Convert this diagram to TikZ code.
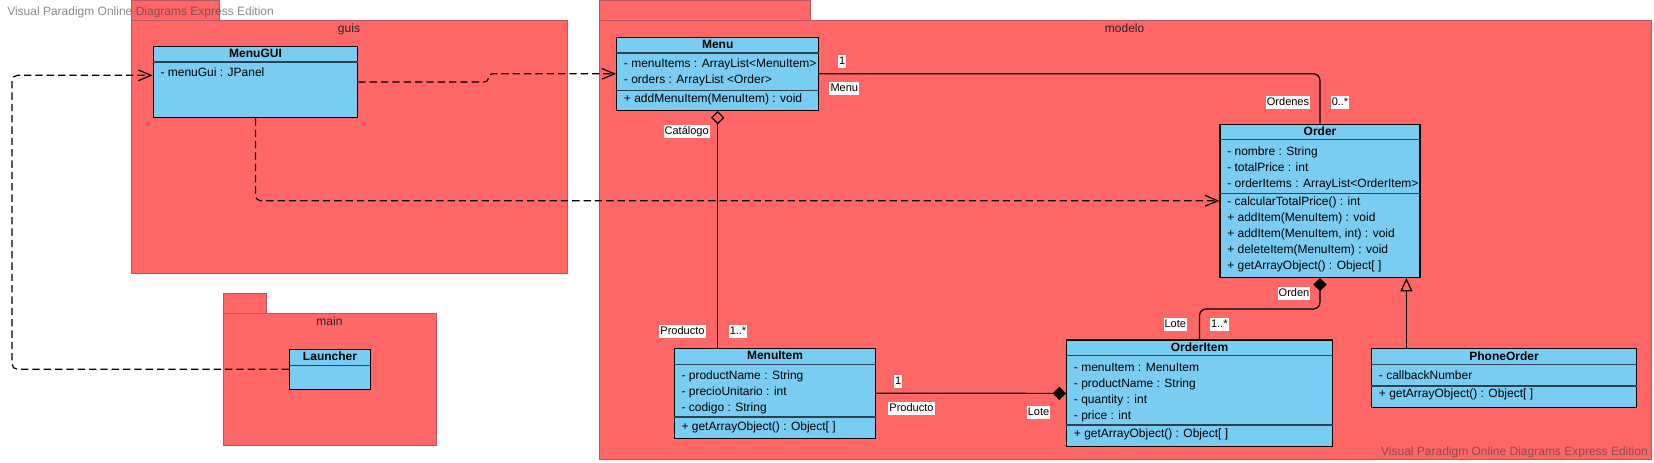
\documentclass[tikz,border=0pt]{standalone}
\usepackage{fontspec}
\setmainfont{Liberation Sans}
\usetikzlibrary{arrows.meta,fit}

\definecolor{pkgred}{RGB}{255,102,102}
\definecolor{pkgline}{RGB}{190,85,100}
\definecolor{clsblue}{RGB}{122,205,242}
\definecolor{sepline}{RGB}{45,65,80}

\begin{document}
\begin{tikzpicture}[x=0.75pt, y=-0.75pt, font=\fontsize{9}{11}\selectfont,
    pkg/.style={draw=pkgline, fill=pkgred, line width=0.6pt, inner sep=0},
    pkgname/.style={inner sep=0, text=black!85},
    cls/.style={draw=black, fill=clsblue, line width=1pt, inner sep=0},
    sepl/.style={draw=sepline, line width=1.2pt},
    cname/.style={font=\fontsize{9}{11}\selectfont\bfseries, inner sep=0, text height=7pt, text depth=2pt},
    member/.style={anchor=west, inner sep=0, text height=7pt, text depth=2pt},
    lbl/.style={fill=white, inner sep=0.8pt, font=\fontsize{8.25}{10}\selectfont, text height=6.2pt, text depth=1.8pt},
    dep/.style={line width=0.9pt, dash pattern=on 5.5pt off 3pt, -{Straight Barb[length=9.5pt, width=8pt]}},
    assoc/.style={line width=0.9pt, rounded corners=5pt},
    wmark/.style={text=black!76, text opacity=0.6, inner sep=0}]

\useasboundingbox (0,0) rectangle (1654,462);

% packages
\node[pkg, fit={(131,0.5) (219,20.3)}] (guis-tab) {};
\node[pkg, fit={(131,20.3) (567.7,273.3)}] (guis) {};
\node[pkgname] (guis-name) at (349,29.3) {guis};
\node[pkg, fit={(223.5,293.3) (266.7,313.3)}] (main-tab) {};
\node[pkg, fit={(223.5,313.3) (436.6,445.3)}] (main) {};
\node[pkgname] (main-name) at (329.5,321.7) {main};
\node[pkg, fit={(599,0.5) (810,20.3)}] (modelo-tab) {};
\node[pkg, fit={(599,20.3) (1651,459)}] (modelo) {};
\node[pkgname] (modelo-name) at (1124.6,28.7) {modelo};

% watermarks
\node[wmark, anchor=west] (wm-top) at (7,12) {Visual Paradigm Online Diagrams Express Edition};
\node[wmark, anchor=east] (wm-bottom) at (1648,452.7) {Visual Paradigm Online Diagrams Express Edition};

% MenuGUI
\node[cls, fit={(153.3,46.3) (357.7,117.7)}] (menugui) {};
\node[cname] (menugui-n) at (255.5,54.5) {MenuGUI};
\draw[sepl] ([yshift=-12.3pt]menugui.north west) -- ([yshift=-12.3pt]menugui.north east);
\node[member] (menugui-a0) at (160.3,73.5) {- menuGui : JPanel};

% Launcher
\node[cls, fit={(289.7,349.3) (370.4,389.3)}] (launcher) {};
\node[cname] (launcher-n) at (330,357.5) {Launcher};
\draw[sepl] ([yshift=-12.5pt]launcher.north west) -- ([yshift=-12.5pt]launcher.north east);

% Menu
\node[cls, fit={(616.7,37.3) (818.7,110.3)}] (menu) {};
\node[cname] (menu-n) at (717.7,45.5) {Menu};
\draw[sepl] ([yshift=-12.4pt]menu.north west) -- ([yshift=-12.4pt]menu.north east);
\draw[sepl] ([yshift=-40.3pt]menu.north west) -- ([yshift=-40.3pt]menu.north east);
\foreach \t [count=\i from 0] in {{- menuItems : ArrayList<MenuItem>}, {- orders : ArrayList <Order>}}
  \node[member] (menu-a\i) at (623.7,{64.5+16*\i}) {\t};
\node[member] (menu-o0) at (623.7,99) {+ addMenuItem(MenuItem) : void};

% Order
\node[cls, fit={(1220,124.3) (1420,277.3)}] (order) {};
\node[cname] (order-n) at (1320,132.5) {Order};
\draw[sepl] ([yshift=-12pt]order.north west) -- ([yshift=-12pt]order.north east);
\draw[sepl] ([yshift=-52.3pt]order.north west) -- ([yshift=-52.3pt]order.north east);
\foreach \t [count=\i from 0] in {{- nombre : String}, {- totalPrice : int}, {- orderItems : ArrayList<OrderItem>}}
  \node[member] (order-a\i) at (1227,{152+16*\i}) {\t};
\foreach \t [count=\i from 0] in {{- calcularTotalPrice() : int}, {+ addItem(MenuItem) : void},
    {+ addItem(MenuItem, int) : void}, {+ deleteItem(MenuItem) : void}, {+ getArrayObject() : Object[ ]}}
  \node[member] (order-o\i) at (1227,{202+16*\i}) {\t};

% MenuItem
\node[cls, fit={(674.3,348.3) (875.7,438.3)}] (menuitem) {};
\node[cname] (menuitem-n) at (775,356.5) {MenuItem};
\draw[sepl] ([yshift=-12.5pt]menuitem.north west) -- ([yshift=-12.5pt]menuitem.north east);
\draw[sepl] ([yshift=-52pt]menuitem.north west) -- ([yshift=-52pt]menuitem.north east);
\foreach \t [count=\i from 0] in {{- productName : String}, {- precioUnitario : int}, {- codigo : String}}
  \node[member] (menuitem-a\i) at (681.3,{376+16*\i}) {\t};
\node[member] (menuitem-o0) at (681.3,426.7) {+ getArrayObject() : Object[ ]};

% OrderItem
\node[cls, fit={(1066.7,340) (1332.3,446.7)}] (orderitem) {};
\node[cname] (orderitem-n) at (1199.5,348) {OrderItem};
\draw[sepl] ([yshift=-12pt]orderitem.north west) -- ([yshift=-12pt]orderitem.north east);
\draw[sepl] ([yshift=-64.3pt]orderitem.north west) -- ([yshift=-64.3pt]orderitem.north east);
\foreach \t [count=\i from 0] in {{- menuItem : MenuItem}, {- productName : String}, {- quantity : int}, {- price : int}}
  \node[member] (orderitem-a\i) at (1073.7,{367.7+16*\i}) {\t};
\node[member] (orderitem-o0) at (1073.7,434) {+ getArrayObject() : Object[ ]};

% PhoneOrder
\node[cls, fit={(1371.7,348.7) (1636.7,407.7)}] (phoneorder) {};
\node[cname] (phoneorder-n) at (1504,356.7) {PhoneOrder};
\draw[sepl] ([yshift=-12.2pt]phoneorder.north west) -- ([yshift=-12.2pt]phoneorder.north east);
\draw[sepl] ([yshift=-28.5pt]phoneorder.north west) -- ([yshift=-28.5pt]phoneorder.north east);
\node[member] (phoneorder-a0) at (1378.7,376) {- callbackNumber};
\node[member] (phoneorder-o0) at (1378.7,394.3) {+ getArrayObject() : Object[ ]};

% dependencies
\draw[dep, rounded corners=4pt] (launcher.west) -- ++(-277,0) |- ([yshift=5pt]menugui.west);
\draw[dep, rounded corners=3pt] (menugui.east) -- ++(130,0) |- (menu.west);
\draw[dep, rounded corners=4pt] (menugui.south) |- (order.west);

% associations
\draw[assoc] (menu.east) -| (order.north);
\draw[assoc, {Diamond[open, length=10pt, width=10pt]}-] (menu.south) -- (menuitem.north -| menu.south);
\draw[assoc, -{Diamond[length=10pt, width=10pt]}] (menuitem.east) -- (orderitem.west);
\draw[assoc, {Diamond[length=10pt, width=10pt]}-] (order.south) -- ++(0,31) -| (orderitem.north);
\coordinate (gentop) at ([xshift=-10.7pt]order.south east);
\draw[assoc, -{Triangle[open, length=10pt, width=9pt]}] (phoneorder.north -| gentop) -- (gentop);

% labels
\node[lbl] (l-menu1) at (842.3,61.7) {1};
\node[lbl] (l-menu) at (844.3,88.3) {Menu};
\node[lbl] (l-ordenes) at (1288,102.3) {Ordenes};
\node[lbl] (l-ordenes0) at (1340,102.3) {0..*};
\node[lbl] (l-catalogo) at (686.7,131.7) {Catálogo};
\node[lbl] (l-producto1) at (682.5,331.7) {Producto};
\node[lbl] (l-menuitem1) at (738,331.7) {1..*};
\node[lbl] (l-prod1) at (898.3,381.3) {1};
\node[lbl] (l-producto2) at (911.5,408.3) {Producto};
\node[lbl] (l-lote1) at (1038.5,412.7) {Lote};
\node[lbl] (l-orden) at (1294,293.3) {Orden};
\node[lbl] (l-lote2) at (1175.3,324.3) {Lote};
\node[lbl] (l-orderitem1) at (1219.3,324.3) {1..*};
\end{tikzpicture}
\end{document}
